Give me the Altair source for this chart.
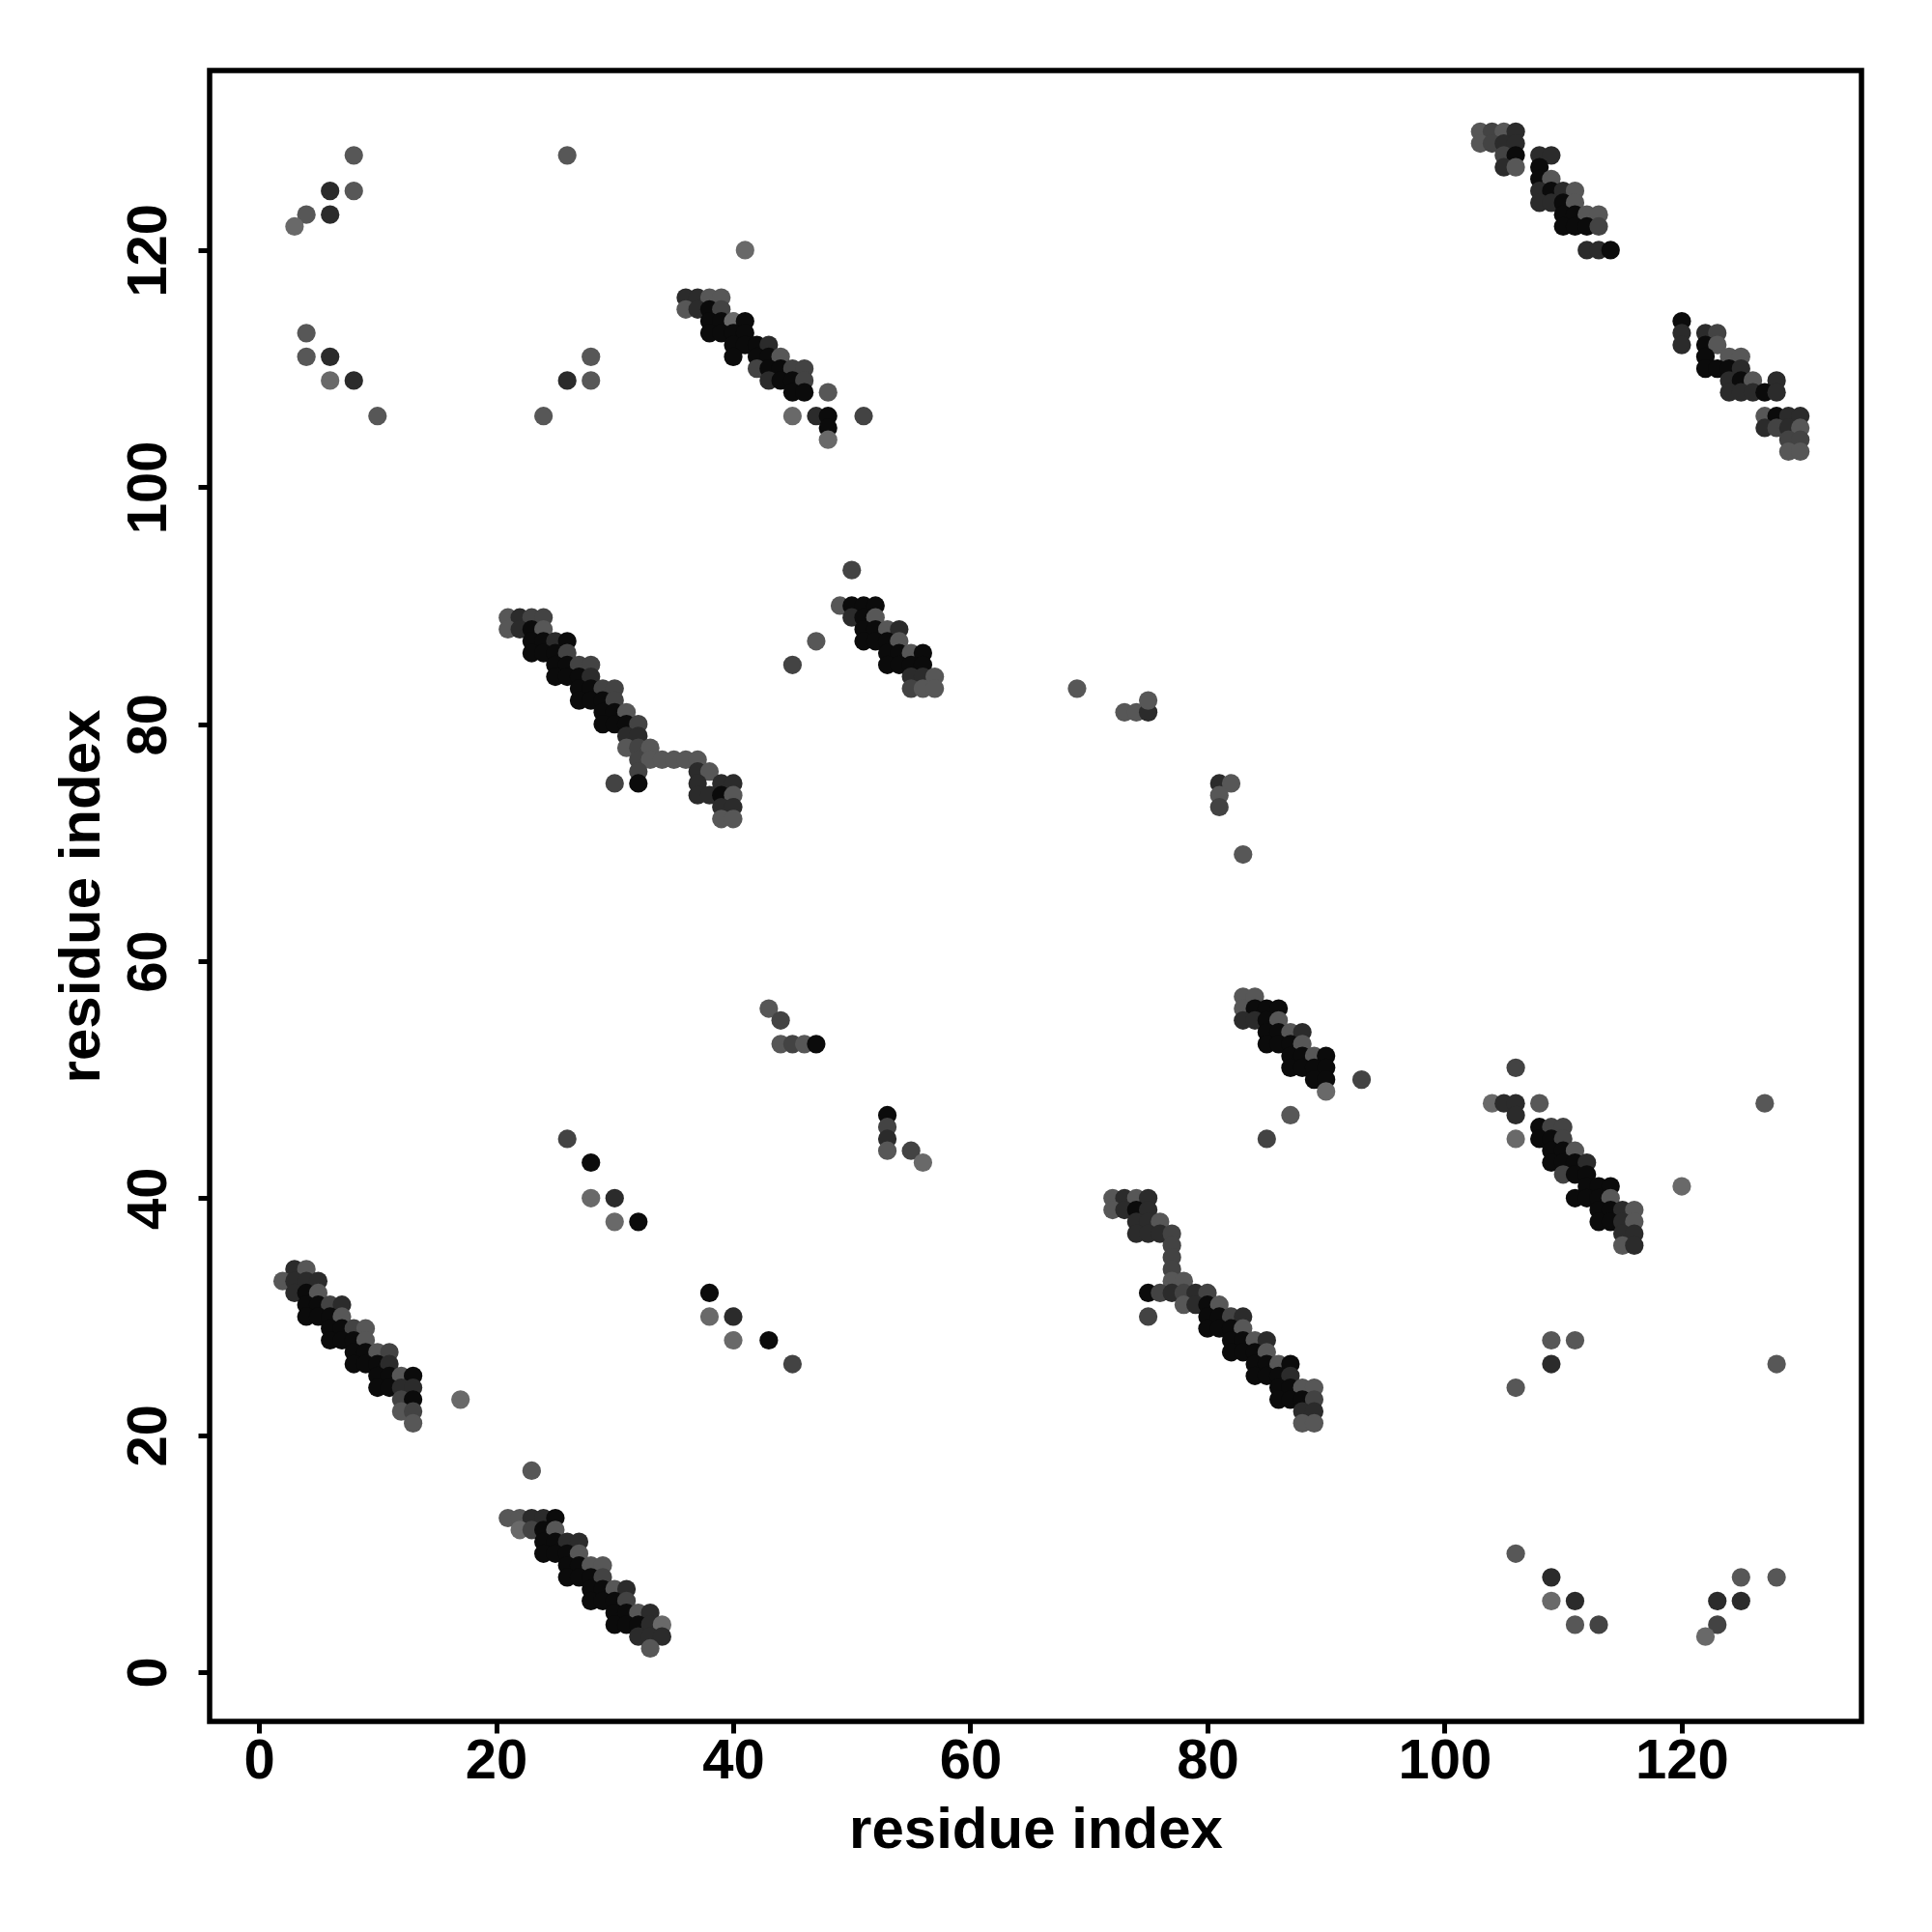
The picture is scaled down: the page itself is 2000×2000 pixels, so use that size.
import altair as alt
import pandas as pd

# shade code: 0 = black ... 4 = light grey
SHADE_COLORS = ["#0b0b0b", "#2b2b2b", "#434343", "#575757", "#696969"]

# (i, j, shade) per contact group
top_left = [(8,128,3),(6,125,1),(8,125,3),(4,123,3),(6,123,1),(3,122,4),
            (4,113,3),(4,111,3),(6,111,1),(6,109,4),(8,109,1),(10,106,3)]
top_left2 = [(26,128,3),(28,111,3),(26,109,1),(28,109,3),(24,106,3)]
band_36_116 = [(41,120,4),
    (36,116,1),(37,116,1),(38,116,3),(39,116,3),
    (36,115,3),(37,115,1),(38,115,0),(39,115,2),
    (38,114,0),(39,114,0),(40,114,4),(41,114,0),
    (38,113,0),(39,113,0),(40,113,0),(41,113,0),
    (40,112,0),(41,112,0),(42,112,0),(43,112,1),
    (40,111,0),(42,111,0),(43,111,0),(44,111,3),
    (42,110,2),(43,110,0),(44,110,0),(45,110,2),(46,110,2),
    (43,109,1),(44,109,0),(45,109,0),(46,109,2),
    (45,108,0),(46,108,0),(48,108,3),
    (45,106,4),(47,106,1),(48,106,0),(51,106,2),
    (48,105,0),(48,104,4)]
band_103_130 = [
    (103,130,3),(104,130,2),(105,130,3),(106,130,1),
    (103,129,3),(104,129,2),(105,129,1),(106,129,1),
    (105,128,2),(106,128,0),(108,128,1),(109,128,1),
    (105,127,1),(106,127,3),(108,127,0),
    (108,126,0),(109,126,3),
    (108,125,1),(109,125,0),(110,125,1),(111,125,3),
    (108,124,1),(109,124,1),(110,124,0),(111,124,3),
    (110,123,0),(111,123,0),(112,123,3),(113,123,3),
    (110,122,0),(111,122,0),(112,122,0),(113,122,2),
    (112,120,1),(113,120,1),(114,120,0)]
band_120_114 = [
    (120,114,0),(120,113,1),(122,113,1),(123,113,2),
    (120,112,1),(122,112,0),(123,112,3),
    (122,111,0),(124,111,3),(125,111,3),
    (122,110,0),(123,110,0),(124,110,0),(125,110,1),
    (124,109,1),(125,109,0),(126,109,3),(128,109,1),
    (124,108,1),(125,108,1),(126,108,1),(127,108,0),(128,108,1),
    (127,106,3),(128,106,0),(129,106,1),(130,106,1),
    (127,105,1),(128,105,2),(129,105,1),(130,105,3),
    (129,104,2),(130,104,2),
    (129,103,3),(130,103,3)]
band_21_89 = [
    (21,89,3),(22,89,1),(23,89,2),(24,89,2),
    (21,88,3),(22,88,1),(23,88,0),(24,88,3),
    (23,87,0),(24,87,0),(25,87,1),(26,87,0),
    (23,86,0),(24,86,0),(25,86,0),(26,86,2),
    (25,85,0),(26,85,0),(27,85,2),(28,85,2),
    (25,84,0),(26,84,0),(27,84,0),(28,84,1),
    (27,83,0),(28,83,0),(29,83,2),(30,83,2),
    (27,82,0),(28,82,0),(29,82,0),(30,82,2),
    (29,81,0),(30,81,0),(31,81,3),
    (29,80,0),(30,80,0),(31,80,0),(32,80,2),
    (31,79,1),(32,79,1),
    (31,78,3),(32,78,2),(33,78,3),
    (32,77,2),(33,77,3),(34,77,3),(35,77,3),(36,77,3),(37,77,3),
    (32,76,2),(37,76,1),(38,76,3),
    (30,75,2),(32,75,0),(37,75,1),(39,75,1),(40,75,1),
    (37,74,1),(38,74,1),(39,74,0),(40,74,3),
    (39,73,1),(40,73,1),
    (39,72,3),(40,72,3)]
band_49_90 = [
    (50,93,2),
    (49,90,3),(50,90,0),(51,90,0),(52,90,0),
    (50,89,1),(51,89,0),(52,89,3),
    (51,88,0),(52,88,0),(53,88,3),(54,88,1),
    (51,87,0),(52,87,0),(53,87,0),(54,87,3),
    (53,86,0),(54,86,0),(55,86,3),(56,86,0),
    (53,85,0),(54,85,0),(55,85,0),(56,85,0),
    (55,84,1),(56,84,1),(57,84,3),
    (55,83,2),(56,83,3),(57,83,3),
    (47,87,3),(45,85,2)]
scatter_69_83 = [(69,83,3),(73,81,3),(74,81,3),(75,81,1),(75,82,3),
                 (81,75,1),(82,75,3),(81,74,3),(81,73,2),(83,69,3)]
scatter_43_56 = [(43,56,3),(44,55,2),(44,53,3),(45,53,2),(46,53,3),(47,53,0),
                 (53,47,0),(53,46,2),(53,45,1),(53,44,3),(55,44,2),(56,43,4)]
band_83_57 = [
    (83,57,3),(84,57,3),
    (83,56,3),(84,56,0),(85,56,0),(86,56,0),
    (83,55,1),(84,55,1),(85,55,0),(86,55,3),
    (85,54,0),(86,54,0),(87,54,3),(88,54,1),
    (85,53,0),(86,53,0),(87,53,0),(88,53,3),
    (87,52,0),(88,52,0),(89,52,3),(90,52,0),
    (87,51,0),(88,51,0),(89,51,0),(90,51,0),
    (89,50,0),(90,50,0),(93,50,2),
    (90,49,4),(87,47,3),(85,45,2)]
band_104_48 = [
    (106,51,2),
    (104,48,4),(105,48,1),(106,48,1),(108,48,3),(127,48,3),
    (106,47,1),
    (108,46,0),(109,46,2),(110,46,2),
    (106,45,4),(108,45,0),(109,45,0),(110,45,2),
    (109,44,0),(110,44,0),(111,44,3),
    (109,43,0),(110,43,0),(111,43,0),(112,43,1),
    (110,42,2),(111,42,0),(112,42,0),
    (112,41,0),(113,41,0),(114,41,0),(120,41,4),
    (111,40,0),(112,40,0),(113,40,0),(114,40,3),
    (113,39,0),(114,39,0),(115,39,1),(116,39,3),
    (113,38,0),(114,38,0),(115,38,1),(116,38,3),
    (115,37,1),(116,37,1),
    (115,36,3),(116,36,1)]
scatter_26_45 = [(26,45,2),(28,43,0),(28,40,4),(30,40,1),(30,38,4),(32,38,0),
                 (38,32,0),(38,30,4),(40,30,1),(40,28,4),(43,28,0),(45,26,2)]
band_72_40 = [
    (72,40,3),(73,40,1),(74,40,3),(75,40,1),
    (72,39,3),(73,39,1),(74,39,0),(75,39,1),
    (74,38,1),(75,38,1),(76,38,3),
    (74,37,1),(75,37,1),(76,37,1),(77,37,2),
    (77,36,2),(77,35,2),(77,34,2),
    (77,33,3),(78,33,3),
    (75,32,0),(76,32,2),(77,32,1),(78,32,2),(79,32,1),(80,32,2),
    (78,31,3),(79,31,1),(80,31,0),(81,31,3),
    (75,30,2),(80,30,0),(81,30,0),(82,30,2),(83,30,1),
    (80,29,0),(81,29,0),(82,29,0),(83,29,3),
    (82,28,0),(83,28,0),(84,28,3),(85,28,1),
    (82,27,0),(83,27,0),(84,27,0),(85,27,3),
    (84,26,0),(85,26,0),(86,26,3),(87,26,0),
    (84,25,0),(85,25,0),(86,25,0),(87,25,1),
    (86,24,0),(87,24,0),(88,24,3),(89,24,3),
    (86,23,0),(87,23,0),(88,23,0),(89,23,2),
    (88,22,1),(89,22,1),
    (88,21,3),(89,21,3)]
band_2_34 = [
    (3,34,1),(4,34,3),
    (2,33,3),(3,33,1),(4,33,1),(5,33,1),
    (3,32,1),(4,32,0),(5,32,3),
    (4,31,0),(5,31,0),(6,31,2),(7,31,1),
    (4,30,0),(5,30,0),(6,30,0),(7,30,3),
    (6,29,0),(7,29,0),(8,29,2),(9,29,3),
    (6,28,0),(7,28,0),(8,28,0),(9,28,3),
    (8,27,0),(9,27,0),(10,27,3),(11,27,2),
    (8,26,0),(9,26,0),(10,26,0),(11,26,1),
    (10,25,0),(11,25,0),(12,25,3),(13,25,0),
    (10,24,0),(11,24,0),(12,24,1),(13,24,1),
    (12,23,2),(13,23,0),(17,23,4),
    (12,22,3),(13,22,2),
    (13,21,3)]
band_21_13 = [
    (23,17,3),
    (21,13,3),(22,13,3),(23,13,1),(24,13,1),(25,13,0),
    (22,12,4),(23,12,2),(24,12,0),(25,12,3),
    (24,11,0),(25,11,0),(26,11,1),(27,11,1),
    (24,10,0),(25,10,0),(26,10,0),(27,10,3),
    (26,9,0),(27,9,0),(28,9,3),(29,9,3),
    (26,8,0),(27,8,0),(28,8,0),(29,8,2),
    (28,7,0),(29,7,0),(30,7,3),(31,7,1),
    (28,6,0),(29,6,0),(30,6,0),(31,6,2),
    (30,5,0),(31,5,0),(32,5,3),(33,5,1),
    (30,4,0),(31,4,0),(32,4,0),(33,4,1),(34,4,4),
    (32,3,1),(33,3,1),(34,3,1),
    (33,2,3)]
scatter_bottom_right = [
    (106,24,3),(109,28,3),(111,28,3),(109,26,1),(128,26,3),
    (106,10,3),(109,8,1),(109,6,4),(111,6,1),(111,4,3),(113,4,2),
    (125,8,3),(128,8,3),(123,6,1),(125,6,1),(123,4,2),(122,3,4)]

TICKS = [0, 20, 40, 60, 80, 100, 120]
DOMAIN = [-4.16, 135.16]

groups = [top_left, top_left2, band_36_116, band_103_130, band_120_114,
          band_21_89, band_49_90, scatter_69_83, scatter_43_56, band_83_57,
          band_104_48, scatter_26_45, band_72_40, band_2_34, band_21_13,
          scatter_bottom_right]
rows = [{"i": a, "j": b, "shade": s} for g in groups for (a, b, s) in g]
for k, r in enumerate(rows):
    r["order"] = k
df = pd.DataFrame(rows)

FONT = "Liberation Sans"
W, H = 1710, 1709

chart = alt.Chart(df).mark_circle(size=370, opacity=1).encode(
    x=alt.X("i:Q",
            scale=alt.Scale(domain=DOMAIN, nice=False, zero=False),
            axis=alt.Axis(values=TICKS, title="residue index", grid=False,
                          labelPadding=46, labelBaseline="alphabetic",
                          titleX=W / 2, titleY=130, titleBaseline="alphabetic",
                          titleAlign="center")),
    y=alt.Y("j:Q",
            scale=alt.Scale(domain=DOMAIN, nice=False, zero=False),
            axis=alt.Axis(values=TICKS, title="residue index", grid=False,
                          labelAngle=-90, labelAlign="center",
                          labelBaseline="alphabetic", labelPadding=34,
                          titleAngle=-90, titleX=-115, titleY=H / 2,
                          titleBaseline="alphabetic", titleAlign="center")),
    color=alt.Color("shade:O",
                    scale=alt.Scale(domain=[0, 1, 2, 3, 4], range=SHADE_COLORS),
                    legend=None),
    order=alt.Order("order:Q"),
).properties(
    width=W, height=H,
    autosize=alt.AutoSizeParams(type="none"),
    padding={"left": 209, "top": 65, "right": 60, "bottom": 170},
    background="white",
).configure_view(
    stroke="black", strokeWidth=5.5, fill="white"
).configure_axis(
    domain=False, ticks=True, tickColor="black", tickWidth=5, tickSize=12,
    labelFont=FONT, labelFontWeight="bold", labelFontSize=58, labelColor="black",
    titleFont=FONT, titleFontWeight="bold", titleFontSize=60, titleColor="black",
    labelOverlap=False, labelFlush=False,
)

chart.save("out.html", embed_options={"renderer": "svg", "actions": False})
